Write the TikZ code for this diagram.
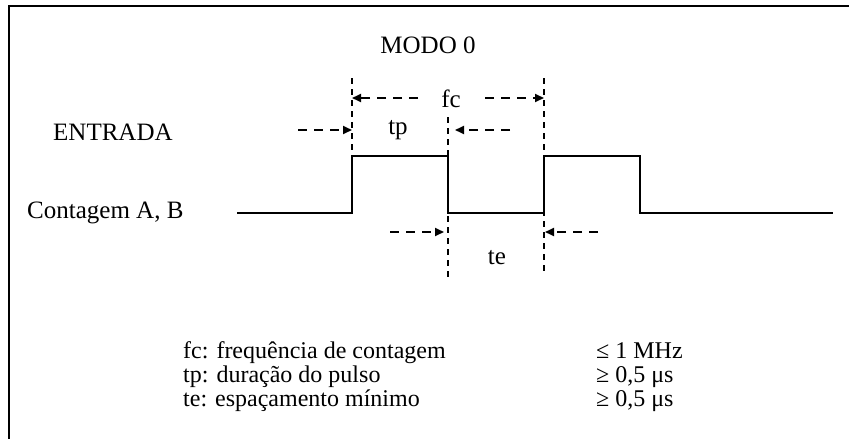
\documentclass[tikz,border=0pt]{standalone}
\usepackage{fontspec}
\setmainfont{Liberation Serif}
\usetikzlibrary{arrows.meta}
\begin{document}
\begin{tikzpicture}[x=1pt,y=-1pt,
  wave/.style={line width=2pt},
  guide/.style={line width=1.8pt,dash pattern=on 6pt off 5pt},
  dimarrow/.style={line width=2pt,dash pattern=on 9pt off 7pt,-{Triangle[length=9pt,width=8pt]}},
  txt/.style={inner sep=0pt,anchor=base west,font=\fontsize{25}{29}\selectfont},
  ctxt/.style={inner sep=0pt,anchor=base,font=\fontsize{25}{29}\selectfont},
  leg/.style={inner sep=0pt,anchor=base west,font=\fontsize{24}{28}\selectfont}]
\useasboundingbox (0,0) rectangle (849,439);
\clip (0,0) rectangle (849,439);
\draw[line width=2.5pt] (9,6) rectangle (870,460);
% waveform coordinates
\coordinate (w0) at (237,213);
\coordinate (w1) at (352,213);
\coordinate (w2) at (352,156);
\coordinate (w3) at (448,156);
\coordinate (w4) at (448,213);
\coordinate (w5) at (544,213);
\coordinate (w6) at (544,156);
\coordinate (w7) at (640,156);
\coordinate (w8) at (640,213);
\coordinate (w9) at (833,213);
\draw[wave] (w0) -- (w1) -- (w2) -- (w3) -- (w4) -- (w5) -- (w6) -- (w7) -- (w8) -- (w9);
% guide lines
\coordinate (g1t) at (352,78);
\coordinate (g2t) at (448,117);
\coordinate (g2b) at (448,277);
\coordinate (g3t) at (544,78);
\coordinate (g3b) at (544,272);
\draw[guide] (g1t) -- (w2);
\draw[guide] (g2t) -- (g2b);
\draw[guide] (g3t) -- (g3b);
% dimension arrows
\coordinate (fa1) at (418,98);  \coordinate (fa1e) at (352,98);
\coordinate (fa2) at (485,98);  \coordinate (fa2e) at (544,98);
\coordinate (ta1) at (298,130); \coordinate (ta1e) at (352,130);
\coordinate (ta2) at (510,130); \coordinate (ta2e) at (455,130);
\coordinate (ea1) at (390,232); \coordinate (ea1e) at (444,232);
\coordinate (ea2) at (598,232); \coordinate (ea2e) at (545,232);
\draw[dimarrow] (fa1) -- (fa1e);
\draw[dimarrow] (fa2) -- (fa2e);
\draw[dimarrow] (ta1) -- (ta1e);
\draw[dimarrow] (ta2) -- (ta2e);
\draw[dimarrow] (ea1) -- (ea1e);
\draw[dimarrow] (ea2) -- (ea2e);
% labels
\node[ctxt] (modo) at (428,53) {MODO 0};
\node[txt] (entrada) at (53,140) {ENTRADA};
\node[txt] (cont) at (27,218) {Contagem A, B};
\node[ctxt] (fc) at (451,107) {fc};
\node[ctxt] (tp) at (398,134) {tp};
\node[ctxt] (te) at (497,264) {te};
% legend
\node[leg] (l1) at (183,358) {fc: frequência de contagem};
\node[leg] (l2) at (183,382) {tp: duração do pulso};
\node[leg] (l3) at (183,406) {te: espaçamento mínimo};
\node[leg] (r1) at (596,358) {≤ 1 MHz};
\node[leg] (r2) at (596,382) {≥ 0,5 μs};
\node[leg] (r3) at (596,406) {≥ 0,5 μs};
\end{tikzpicture}
\end{document}
